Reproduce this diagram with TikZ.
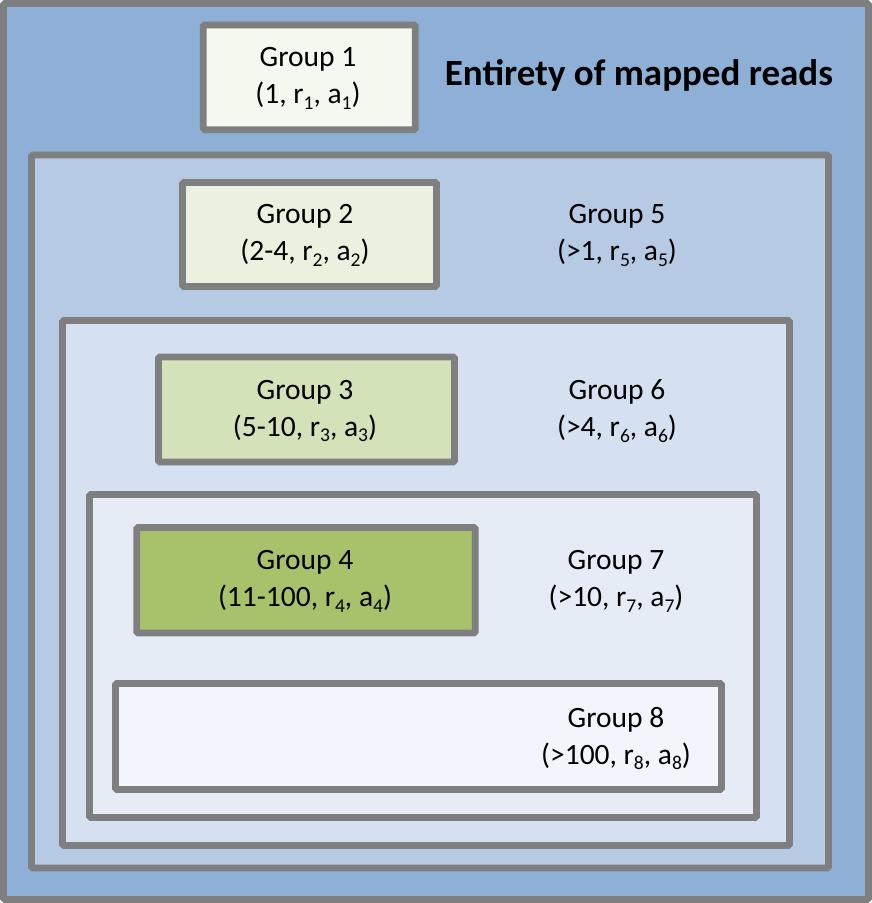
\documentclass[tikz,border=0pt]{standalone}
\usepackage{fontspec}
\setmainfont{Carlito}
\definecolor{bordergray}{HTML}{7F7F7F}
\definecolor{lvA}{HTML}{8EB0D6}
\definecolor{lvB}{HTML}{B6CAE4}
\definecolor{lvC}{HTML}{D5E0F0}
\definecolor{lvD}{HTML}{E6ECF6}
\definecolor{lvE}{HTML}{F2F5FB}
\definecolor{grA}{HTML}{F5F8EE}
\definecolor{grB}{HTML}{EAF1DE}
\definecolor{grC}{HTML}{D4E2BA}
\definecolor{grD}{HTML}{A7C26B}
\newcommand\sbs[1]{\raisebox{-0.2em}{\fontsize{19.5}{19.5}\selectfont #1}}
\tikzset{
  frame/.style={draw=bordergray, line width=6.8pt, rounded corners=1.5pt, inner sep=0pt, outer sep=0pt},
  lbl/.style={align=center, font=\fontsize{29.5}{37}\selectfont, inner sep=0pt},
}
\begin{document}
\begin{tikzpicture}[x=1pt,y=-1pt]
\useasboundingbox (0,0) rectangle (872,903);
% nested containers
\node[frame, fill=lvA, minimum width=865, minimum height=896] (lvla) at (436,451.5) {};
\node[frame, fill=lvB, minimum width=797, minimum height=713] (lvlb) at (430,511.5) {};
\node[frame, fill=lvC, minimum width=727, minimum height=525] (lvlc) at (426,583) {};
\node[frame, fill=lvD, minimum width=667, minimum height=323] (lvld) at (423,656) {};
\node[frame, fill=lvE, minimum width=606, minimum height=106] (grp8box) at (418.5,736.5) {};
% group boxes
\node[frame, fill=grA, minimum width=212, minimum height=104.7] (grp1box) at (309.3,77.3) {};
\node[frame, fill=grB, minimum width=254, minimum height=104] (grp2box) at (309.5,234.5) {};
\node[frame, fill=grC, minimum width=296, minimum height=105] (grp3box) at (306.5,409.5) {};
\node[frame, fill=grD, minimum width=338.6, minimum height=105.5] (grp4box) at (306,580.2) {};
% labels
\node[lbl] (t1) at (308,78) {Group 1\\(1, r\sbs{1}, a\sbs{1})};
\node[font=\fontsize{37}{44}\selectfont\bfseries, inner sep=0pt] (title) at (639,75) {Entirety of mapped reads};
\node[lbl] (t2) at (305,235.5) {Group 2\\(2-4, r\sbs{2}, a\sbs{2})};
\node[lbl] (t5) at (617,235.5) {Group 5\\(>1, r\sbs{5}, a\sbs{5})};
\node[lbl] (t3) at (305,411) {Group 3\\(5-10, r\sbs{3}, a\sbs{3})};
\node[lbl] (t6) at (617,411) {Group 6\\(>4, r\sbs{6}, a\sbs{6})};
\node[lbl] (t4) at (305,581.5) {Group 4\\(11-100, r\sbs{4}, a\sbs{4})};
\node[lbl] (t7) at (616,581.5) {Group 7\\(>10, r\sbs{7}, a\sbs{7})};
\node[lbl] (t8) at (616,738.5) {Group 8\\(>100, r\sbs{8}, a\sbs{8})};
\end{tikzpicture}
\end{document}
